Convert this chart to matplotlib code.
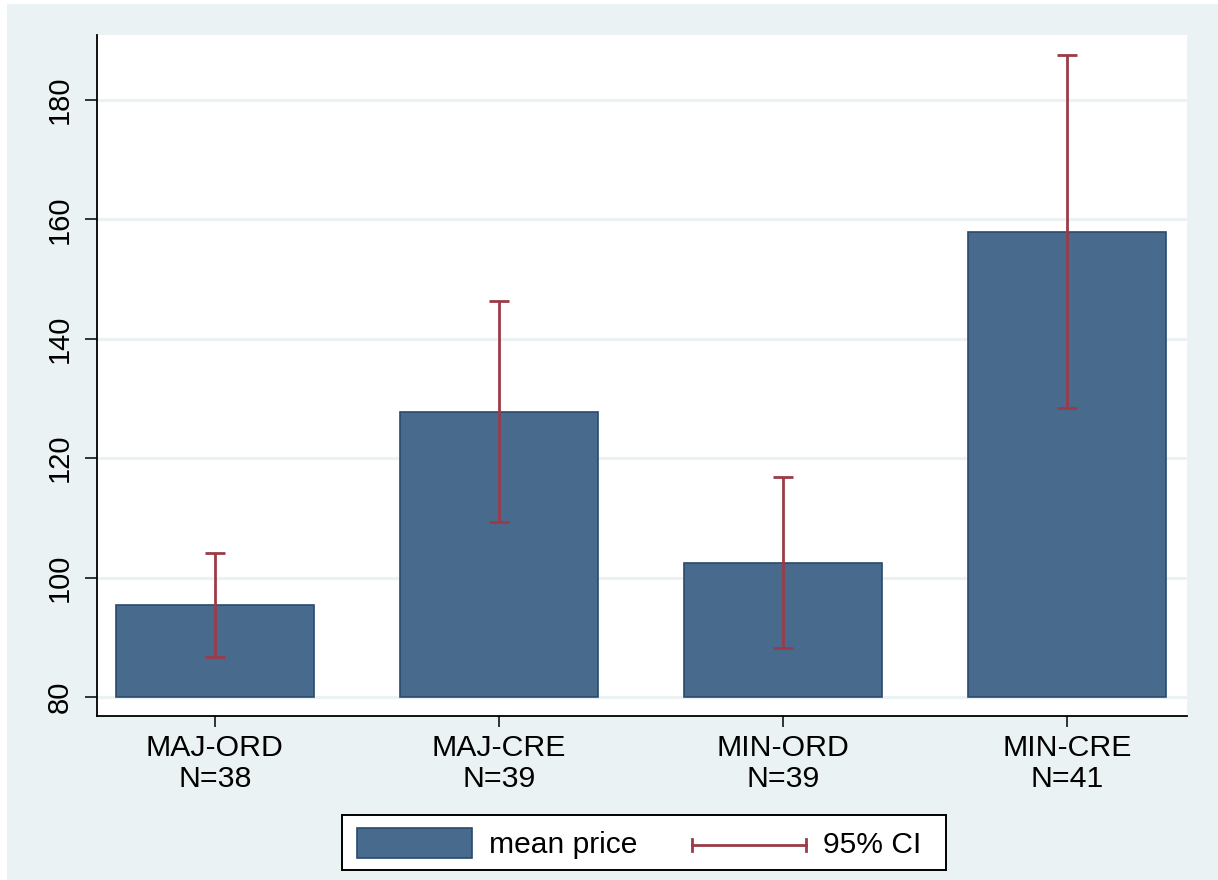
import matplotlib
matplotlib.use("Agg")
import matplotlib.pyplot as plt
from matplotlib.patches import Rectangle
import numpy as np

# Data
groups = ["MAJ-ORD", "MAJ-CRE", "MIN-ORD", "MIN-CRE"]
group_n = [38, 39, 39, 41]
mean_price = [95.4, 127.7, 102.4, 157.9]
ci_low = [86.7, 109.3, 88.2, 128.4]
ci_high = [104.1, 146.4, 116.8, 187.6]
y_ticks = [80, 100, 120, 140, 160, 180]

BG = "#EAF2F3"
BAR = "#476A8D"
BAR_EDGE = "#2A4A6C"
CI = "#9A3B47"

plt.rcParams["font.family"] = ["Liberation Sans", "DejaVu Sans"]

W, H = 1218, 880
fig = plt.figure(figsize=(W / 100, H / 100), dpi=100, facecolor="white")

# Graph region background (thin white margin on left and top)
bg_rect = Rectangle((7 / W, 0), 1 - 7 / W, (H - 4) / H,
                    transform=fig.transFigure, facecolor=BG,
                    edgecolor="none", zorder=-10)
fig.add_artist(bg_rect)

ax = fig.add_axes([97 / W, (H - 716) / H, (1187 - 97) / W, (716 - 35) / H])
ax.set_zorder(1)
ax.set_facecolor("white")

x = np.arange(len(groups))
base = 80
heights = np.array(mean_price) - base
ax.bar(x, heights, bottom=base, width=0.697, color=BAR, edgecolor=BAR_EDGE,
       linewidth=1.2, zorder=2)

mp = np.array(mean_price)
yerr = np.vstack([mp - np.array(ci_low), np.array(ci_high) - mp])
ax.errorbar(x, mp, yerr=yerr, fmt="none", ecolor=CI, elinewidth=2,
            capsize=7.5, capthick=2, zorder=3)

ax.set_xlim(-0.415, 3.423)
ax.set_ylim(76.82, 190.9)

ax.set_yticks(y_ticks)
ax.set_yticklabels([str(v) for v in y_ticks], rotation=90, va="center",
                   fontsize=21)
ax.set_xticks(x)
ax.set_xticklabels([f"{g}\nN={n}" for g, n in zip(groups, group_n)],
                   fontsize=21.8, linespacing=1.13)

ax.yaxis.grid(True, color=BG, linewidth=2.2, zorder=1)
ax.set_axisbelow(True)

for side in ("top", "right"):
    ax.spines[side].set_visible(False)
for side in ("left", "bottom"):
    ax.spines[side].set_linewidth(1.3)
    ax.spines[side].set_color("black")
ax.tick_params(axis="y", length=8.5, width=1.1, pad=8)
ax.tick_params(axis="x", length=8, width=1.1, pad=5)

# Legend box
lx0, lx1, ly0, ly1 = 342, 946, 815, 870
lax = fig.add_axes([lx0 / W, (H - ly1) / H, (lx1 - lx0) / W, (ly1 - ly0) / H])
lax.set_zorder(1)
lax.set_xlim(lx0, lx1)
lax.set_ylim(ly1, ly0)
lax.set_xticks([])
lax.set_yticks([])
lax.set_facecolor("white")
for s in lax.spines.values():
    s.set_linewidth(1.4)
    s.set_color("black")

lax.add_patch(Rectangle((357, 828), 115, 30, facecolor=BAR, edgecolor=BAR_EDGE,
                        linewidth=1.2))
lax.text(489, 845, "mean price", fontsize=21.6, va="center", ha="left")
lax.plot([692, 806], [845, 845], color=CI, linewidth=2)
lax.plot([692, 692], [839, 851], color=CI, linewidth=2)
lax.plot([806, 806], [839, 851], color=CI, linewidth=2)
lax.text(823, 845, "95% CI", fontsize=21.6, va="center", ha="left")

fig.savefig("out.png", dpi=100, facecolor=fig.get_facecolor())
